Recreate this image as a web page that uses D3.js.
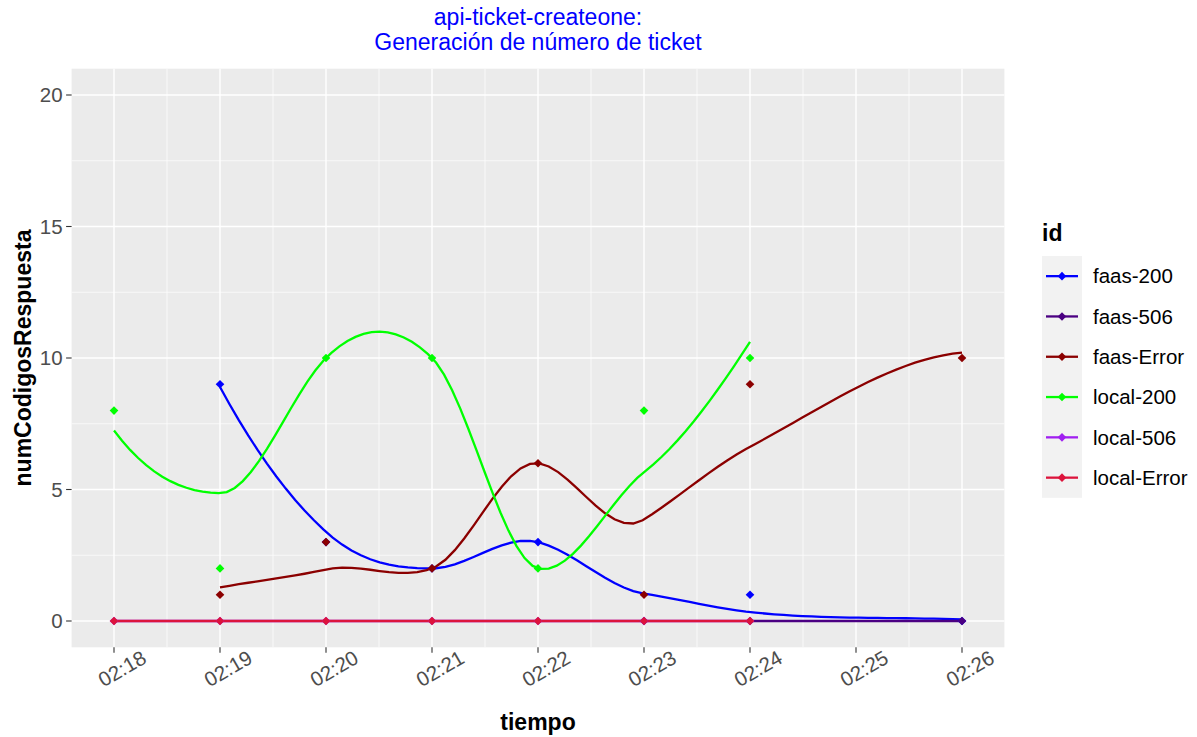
<!DOCTYPE html>
<html>
<head>
<meta charset="utf-8">
<script src="https://cdn.jsdelivr.net/npm/d3@7"></script>
<style>
    body { margin: 0; background: #fff; }
    svg { font-family: "Liberation Sans", Arial, sans-serif; }
</style>
</head>
<body>
<div id="chart"></div>
<script>
const titleLines = ["api-ticket-createone:", "Generación de número de ticket"]
const xTitle = "tiempo"
const yTitle = "numCodigosRespuesta"
const legendTitle = "id"

const tickTimes = ["02:18", "02:19", "02:20", "02:21", "02:22", "02:23", "02:24", "02:25", "02:26"]
const yTicks = [0, 5, 10, 15, 20]

const seriesNames = ["faas-200", "faas-506", "faas-Error", "local-200", "local-506", "local-Error"]
const seriesColors = ["#0000FF", "#4B0082", "#8B0000", "#00FF00", "#A020F0", "#DC143C"]

const faas200Times = ["02:19", "02:20", "02:21", "02:22", "02:23", "02:24", "02:26"]
const faas200Values = [9, 3, 2, 3, 0, 1, 0]
const faas506Times = ["02:24", "02:26"]
const faas506Values = [0, 0]
const faasErrorTimes = ["02:19", "02:20", "02:21", "02:22", "02:23", "02:24", "02:26"]
const faasErrorValues = [1, 3, 2, 6, 1, 9, 10]
const local200Times = ["02:18", "02:19", "02:20", "02:21", "02:22", "02:23", "02:24"]
const local200Values = [8, 2, 10, 10, 2, 8, 10]
const local506Times = ["02:18", "02:19", "02:20", "02:21", "02:22", "02:23", "02:24"]
const local506Values = [0, 0, 0, 0, 0, 0, 0]
const localErrorTimes = ["02:18", "02:19", "02:20", "02:21", "02:22", "02:23", "02:24"]
const localErrorValues = [0, 0, 0, 0, 0, 0, 0]

const seriesTimes = [faas200Times, faas506Times, faasErrorTimes, local200Times, local506Times, localErrorTimes]
const seriesValues = [faas200Values, faas506Values, faasErrorValues, local200Values, local506Values, localErrorValues]

const parseTime = d3.utcParse("%H:%M")
const formatTime = d3.utcFormat("%H:%M")

// loess as R does it (span 0.75, degree 2, kd-tree vertices + cubic hermite)
function loess(xs, ys, span = 0.75) {
    const n = xs.length
    const q = Math.max(1, Math.floor(n * span))
    const fc = Math.max(1, Math.floor(n * span * 0.2))

    function localFit(v) {
        const d = xs.map(x => Math.abs(x - v))
        const sorted = d.slice().sort((a, b) => a - b)
        const rho = sorted[Math.min(q, n) - 1] * Math.max(1, span)
        let w = d.map(di => (rho > 0 && di < rho) ? Math.pow(1 - Math.pow(di / rho, 3), 3) : 0)
        if (!w.some(x => x > 0)) w = d.map(di => di === sorted[0] ? 1 : 0)
        const used = w.filter(x => x > 0).length
        const deg = Math.min(2, used - 1)
        const k = deg + 1
        const A = d3.range(k).map(() => new Array(k).fill(0))
        const b = new Array(k).fill(0)
        xs.forEach((x, i) => {
            if (!w[i]) return
            const u = x - v
            const row = d3.range(k).map(p => Math.pow(u, p))
            for (let r = 0; r < k; r++) {
                b[r] += w[i] * row[r] * ys[i]
                for (let c = 0; c < k; c++) A[r][c] += w[i] * row[r] * row[c]
            }
        })
        // gauss elimination
        for (let c = 0; c < k; c++) {
            let piv = c
            for (let r = c + 1; r < k; r++) if (Math.abs(A[r][c]) > Math.abs(A[piv][c])) piv = r
            ;[A[c], A[piv]] = [A[piv], A[c]]
            ;[b[c], b[piv]] = [b[piv], b[c]]
            for (let r = c + 1; r < k; r++) {
                const f = A[r][c] / A[c][c]
                for (let cc = c; cc < k; cc++) A[r][cc] -= f * A[c][cc]
                b[r] -= f * b[c]
            }
        }
        const coef = new Array(k).fill(0)
        for (let r = k - 1; r >= 0; r--) {
            let s = b[r]
            for (let c = r + 1; c < k; c++) s -= A[r][c] * coef[c]
            coef[r] = s / A[r][r]
        }
        return [coef[0], k > 1 ? coef[1] : 0]
    }

    const lo = xs[0], hi = xs[n - 1]
    const mu = 0.005 * Math.max(hi - lo, 1e-10 * Math.max(Math.abs(lo), Math.abs(hi)) + 1e-30)
    const verts = [lo - mu, hi + mu]
    function split(l, u, vlo, vhi) {
        if (u - l + 1 <= fc) return
        const m = Math.floor((l + u) / 2)
        const s = xs[m]
        if (s === vlo || s === vhi) return
        verts.push(s)
        split(l, m, vlo, s)
        split(m + 1, u, s, vhi)
    }
    split(0, n - 1, lo - mu, hi + mu)
    verts.sort((a, b) => a - b)
    const vfit = verts.map(localFit)

    return function (z) {
        let i = d3.bisectRight(verts, z) - 1
        i = Math.max(0, Math.min(verts.length - 2, i))
        const h = verts[i + 1] - verts[i]
        const u = (z - verts[i]) / h
        const phi0 = (1 - u) * (1 - u) * (1 + 2 * u)
        const phi1 = u * u * (3 - 2 * u)
        const psi0 = u * (1 - u) * (1 - u)
        const psi1 = -u * u * (1 - u)
        return phi0 * vfit[i][0] + phi1 * vfit[i + 1][0] + (psi0 * vfit[i][1] + psi1 * vfit[i + 1][1]) * h
    }
}

const width = 1197
const height = 737
const panel = { left: 71.6, right: 1004.4, top: 68.7, bottom: 647.3 }

const series = seriesNames.map((name, i) => ({
    name: name,
    color: seriesColors[i],
    points: seriesTimes[i].map((t, j) => ({ t: parseTime(t), y: seriesValues[i][j] }))
}))

const allTimes = series.flatMap(s => s.points.map(p => +p.t))
const tExtent = d3.extent(allTimes)
const tPad = (tExtent[1] - tExtent[0]) * 0.05

const xScale = d3.scaleUtc()
    .domain([new Date(tExtent[0] - tPad), new Date(tExtent[1] + tPad)])
    .range([panel.left, panel.right])
const yScale = d3.scaleLinear()
    .domain([yTicks[0] - 1, yTicks[yTicks.length - 1] + 1])
    .range([panel.bottom, panel.top])

const xTicks = tickTimes.map(parseTime)
const xMinor = d3.pairs(xTicks).map(([a, b]) => new Date((+a + +b) / 2))
const yMinor = d3.pairs(yTicks).map(([a, b]) => (a + b) / 2)

const svg = d3.select("#chart").append("svg")
    .attr("width", width)
    .attr("height", height)

svg.append("rect")
    .attr("width", width)
    .attr("height", height)
    .attr("fill", "#fff")

svg.append("rect")
    .attr("x", panel.left)
    .attr("y", panel.top)
    .attr("width", panel.right - panel.left)
    .attr("height", panel.bottom - panel.top)
    .attr("fill", "#EBEBEB")

const grid = svg.append("g")
grid.selectAll(".ymin").data(yMinor).enter().append("line")
    .attr("x1", panel.left).attr("x2", panel.right)
    .attr("y1", d => yScale(d)).attr("y2", d => yScale(d))
    .attr("stroke", "#fff").attr("stroke-width", 0.7)
grid.selectAll(".xmin").data(xMinor).enter().append("line")
    .attr("y1", panel.top).attr("y2", panel.bottom)
    .attr("x1", d => xScale(d)).attr("x2", d => xScale(d))
    .attr("stroke", "#fff").attr("stroke-width", 0.7)
grid.selectAll(".ymaj").data(yTicks).enter().append("line")
    .attr("x1", panel.left).attr("x2", panel.right)
    .attr("y1", d => yScale(d)).attr("y2", d => yScale(d))
    .attr("stroke", "#fff").attr("stroke-width", 1.4)
grid.selectAll(".xmaj").data(xTicks).enter().append("line")
    .attr("y1", panel.top).attr("y2", panel.bottom)
    .attr("x1", d => xScale(d)).attr("x2", d => xScale(d))
    .attr("stroke", "#fff").attr("stroke-width", 1.4)

svg.append("defs").append("clipPath")
    .attr("id", "clip")
    .append("rect")
    .attr("x", panel.left)
    .attr("y", panel.top)
    .attr("width", panel.right - panel.left)
    .attr("height", panel.bottom - panel.top)

const line = d3.line()
    .x(d => xScale(d.t))
    .y(d => yScale(d.y))

const diamond = {
    draw(context, size) {
        const r = Math.sqrt(size / 2)
        context.moveTo(0, -r)
        context.lineTo(r, 0)
        context.lineTo(0, r)
        context.lineTo(-r, 0)
        context.closePath()
    }
}
const symbol = d3.symbol().type(diamond).size(2 * 4.3 * 4.3)

const plot = svg.append("g").attr("clip-path", "url(#clip)")

series.forEach(s => {
    const xs = s.points.map(p => +p.t)
    const ys = s.points.map(p => p.y)
    const fit = loess(xs, ys)
    const grid80 = d3.range(80).map(i => xs[0] + (xs[xs.length - 1] - xs[0]) * i / 79)
    s.curve = grid80.map(x => ({ t: new Date(x), y: fit(x) }))
})

plot.selectAll(".smooth")
    .data(series)
    .enter()
    .append("path")
    .attr("d", d => line(d.curve))
    .attr("fill", "none")
    .attr("stroke", d => d.color)
    .attr("stroke-width", 2.3)

series.forEach(s => {
    plot.append("g").selectAll("path")
        .data(s.points)
        .enter()
        .append("path")
        .attr("d", symbol)
        .attr("transform", d => "translate(" + xScale(d.t) + "," + yScale(d.y) + ")")
        .attr("fill", s.color)
})

// axes
const axes = svg.append("g")
axes.selectAll(".ytick").data(yTicks).enter().append("line")
    .attr("x1", panel.left - 5.5).attr("x2", panel.left)
    .attr("y1", d => yScale(d)).attr("y2", d => yScale(d))
    .attr("stroke", "#333").attr("stroke-width", 1.1)
axes.selectAll(".ylab").data(yTicks).enter().append("text")
    .attr("x", panel.left - 9)
    .attr("y", d => yScale(d))
    .attr("dy", "0.35em")
    .attr("text-anchor", "end")
    .attr("fill", "#4D4D4D")
    .style("font-size", "20.5px")
    .text(d => d)

axes.selectAll(".xtick").data(xTicks).enter().append("line")
    .attr("y1", panel.bottom).attr("y2", panel.bottom + 5.5)
    .attr("x1", d => xScale(d)).attr("x2", d => xScale(d))
    .attr("stroke", "#333").attr("stroke-width", 1.1)
axes.selectAll(".xlab").data(xTicks).enter().append("text")
    .attr("transform", d => "translate(" + (xScale(d) + 8) + "," + (panel.bottom + 21) + ") rotate(-30)")
    .attr("text-anchor", "middle")
    .attr("dominant-baseline", "central")
    .attr("fill", "#4D4D4D")
    .style("font-size", "20.5px")
    .text(d => formatTime(d))

const cx = (panel.left + panel.right) / 2
svg.append("text")
    .attr("x", cx)
    .attr("y", 730)
    .attr("text-anchor", "middle")
    .style("font-size", "23px")
    .style("font-weight", "bold")
    .text(xTitle)
svg.append("text")
    .attr("transform", "translate(31," + ((panel.top + panel.bottom) / 2) + ") rotate(-90)")
    .attr("text-anchor", "middle")
    .style("font-size", "23px")
    .style("font-weight", "bold")
    .text(yTitle)

svg.selectAll(".title")
    .data(titleLines)
    .enter()
    .append("text")
    .attr("x", cx)
    .attr("y", (d, i) => 25 + i * 25)
    .attr("text-anchor", "middle")
    .attr("fill", "#0000FF")
    .style("font-size", "23px")
    .text(d => d)

// legend
const legend = svg.append("g")
legend.append("text")
    .attr("x", 1042)
    .attr("y", 241)
    .style("font-size", "23px")
    .style("font-weight", "bold")
    .text(legendTitle)
const rowH = 40.3
const legendTop = 256
legend.append("rect")
    .attr("x", 1042)
    .attr("y", legendTop)
    .attr("width", 40)
    .attr("height", rowH * seriesNames.length)
    .attr("fill", "#F2F2F2")
const rows = legend.selectAll(".row")
    .data(series)
    .enter()
    .append("g")
    .attr("transform", (d, i) => "translate(1042," + (legendTop + rowH * (i + 0.5)) + ")")
rows.append("line")
    .attr("x1", 4).attr("x2", 36)
    .attr("stroke", d => d.color)
    .attr("stroke-width", 2.3)
rows.append("path")
    .attr("d", symbol)
    .attr("transform", "translate(20,0)")
    .attr("fill", d => d.color)
rows.append("text")
    .attr("x", 51)
    .attr("dy", "0.35em")
    .style("font-size", "20.5px")
    .text(d => d.name)
</script>
</body>
</html>
